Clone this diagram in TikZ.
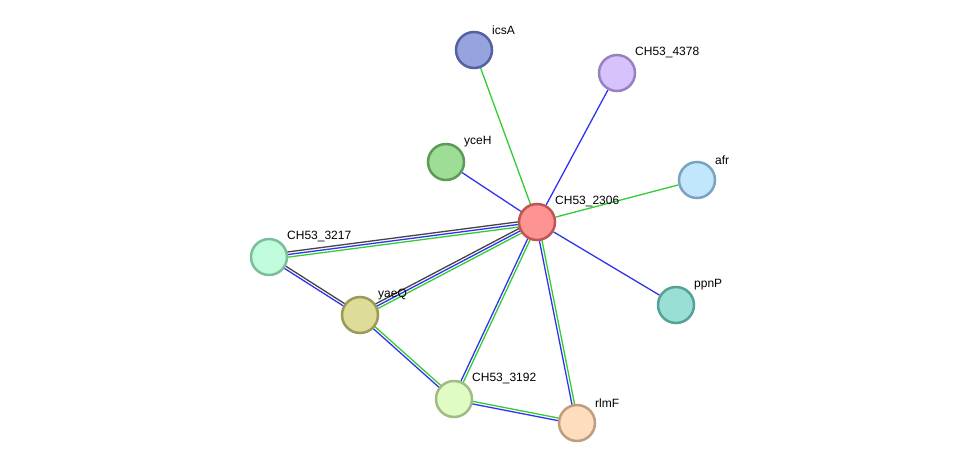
\documentclass[tikz,border=0pt]{standalone}
\usepackage{fontspec}
\setmainfont{Liberation Sans}
\usetikzlibrary{calc,backgrounds}
\definecolor{eblue}{HTML}{3333EE}
\definecolor{egreen}{HTML}{33CC33}
\definecolor{eblack}{HTML}{444444}
\tikzset{
  prot/.style={circle,minimum size=36pt,inner sep=0pt,line width=2.5pt},
  lbl/.style={anchor=south west,inner sep=0pt,font=\fontsize{12}{12}\selectfont},
  edge/.style={line width=1.3pt},
}
\newcommand{\pedge}[4]{\draw[edge,#1] ($(#2)!#4!90:(#3)$) -- ($(#3)!#4!-90:(#2)$);}
\begin{document}
\begin{tikzpicture}[x=1pt,y=-1pt]
\useasboundingbox (0,0) rectangle (975,469);
\node[prot,fill={rgb,255:red,254;green,147;blue,147},draw={rgb,255:red,192;green,84;blue,84}] (c2306) at (537,222) {};
\node[prot,fill={rgb,255:red,151;green,163;blue,223},draw={rgb,255:red,84;green,98;blue,160}] (icsA) at (474,50) {};
\node[prot,fill={rgb,255:red,214;green,195;blue,252},draw={rgb,255:red,151;green,129;blue,194}] (c4378) at (617,73) {};
\node[prot,fill={rgb,255:red,157;green,221;blue,149},draw={rgb,255:red,94;green,154;blue,87}] (yceH) at (446,162) {};
\node[prot,fill={rgb,255:red,194;green,231;blue,252},draw={rgb,255:red,123;green,163;blue,190}] (afr) at (697,180) {};
\node[prot,fill={rgb,255:red,153;green,223;blue,214},draw={rgb,255:red,87;green,160;blue,150}] (ppnP) at (676,305) {};
\node[prot,fill={rgb,255:red,191;green,252;blue,219},draw={rgb,255:red,126;green,189;blue,155}] (c3217) at (269,257) {};
\node[prot,fill={rgb,255:red,221;green,220;blue,152},draw={rgb,255:red,156;green,154;blue,88}] (yaeQ) at (360,315) {};
\node[prot,fill={rgb,255:red,225;green,251;blue,197},draw={rgb,255:red,160;green,187;blue,132}] (c3192) at (454,399) {};
\node[prot,fill={rgb,255:red,254;green,220;blue,190},draw={rgb,255:red,191;green,156;blue,126}] (rlmF) at (577,423) {};
\node[lbl] (l2306) at (555,207) {CH53\_2306};
\node[lbl] (licsA) at (492,35) {icsA};
\node[lbl] (l4378) at (635,58) {CH53\_4378};
\node[lbl] (lyceH) at (464,147) {yceH};
\node[lbl] (lafr) at (715,165) {afr};
\node[lbl] (lppnP) at (694,290) {ppnP};
\node[lbl] (l3217) at (287,242) {CH53\_3217};
\node[lbl] (lyaeQ) at (378,300) {yaeQ};
\node[lbl] (l3192) at (472,384) {CH53\_3192};
\node[lbl] (lrlmF) at (595,408) {rlmF};
\begin{pgfonlayer}{background}
\draw[edge,egreen] (c2306) -- (icsA);
\draw[edge,eblue] (c2306) -- (c4378);
\draw[edge,eblue] (c2306) -- (yceH);
\draw[edge,egreen] (c2306) -- (afr);
\draw[edge,eblue] (c2306) -- (ppnP);
\pedge{egreen}{c2306}{c3217}{2.6pt}
\pedge{eblue}{c2306}{c3217}{0pt}
\pedge{eblack}{c2306}{c3217}{-2.6pt}
\pedge{egreen}{c2306}{yaeQ}{2.6pt}
\pedge{eblue}{c2306}{yaeQ}{0pt}
\pedge{eblack}{c2306}{yaeQ}{-2.6pt}
\pedge{eblack}{c3217}{yaeQ}{1.3pt}
\pedge{eblue}{c3217}{yaeQ}{-1.3pt}
\pedge{egreen}{yaeQ}{c3192}{1.3pt}
\pedge{eblue}{yaeQ}{c3192}{-1.3pt}
\pedge{egreen}{c2306}{c3192}{1.3pt}
\pedge{eblue}{c2306}{c3192}{-1.3pt}
\pedge{egreen}{c2306}{rlmF}{1.3pt}
\pedge{eblue}{c2306}{rlmF}{-1.3pt}
\pedge{egreen}{c3192}{rlmF}{1.3pt}
\pedge{eblue}{c3192}{rlmF}{-1.3pt}
\end{pgfonlayer}
\end{tikzpicture}
\end{document}
